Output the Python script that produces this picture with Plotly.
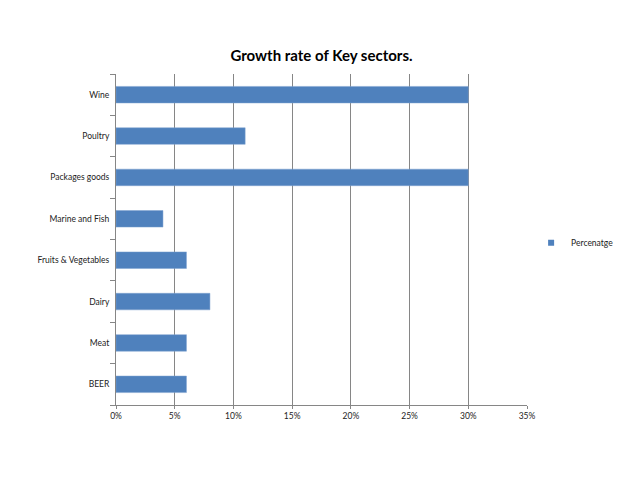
import plotly.graph_objects as go

categories = ["BEER", "Meat", "Dairy", "Fruits & Vegetables", "Marine and Fish",
              "Packages goods", "Poultry", "Wine"]
values = [0.06, 0.06, 0.08, 0.06, 0.04, 0.30, 0.11, 0.30]
series_name = "Percenatge"
x_ticks = [0, 0.05, 0.10, 0.15, 0.20, 0.25, 0.30, 0.35]
x_tick_labels = ["0%", "5%", "10%", "15%", "20%", "25%", "30%", "35%"]

bar_color = "#4F81BD"

fig = go.Figure()
fig.add_trace(go.Bar(
    y=categories, x=values, orientation="h", name=series_name,
    marker=dict(color=bar_color, line=dict(color="#7FA3D1", width=0.5)),
    showlegend=False,
))
# legend entry with a small square key, like the original
fig.add_trace(go.Scatter(
    x=[None], y=[None], mode="markers", name=series_name,
    marker=dict(symbol="square", size=6, color=bar_color),
    showlegend=True,
))

# the page body has an 8px margin, so the figure is 8px smaller to fit the window
fig.update_layout(
    width=630, height=471,
    margin=dict(l=108, r=111, t=66, b=74, autoexpand=False),
    paper_bgcolor="white", plot_bgcolor="white",
    font=dict(family="Lato, Liberation Sans, sans-serif", color="#222222", size=8.5),
    title=dict(text="<b>Growth rate of Key sectors.</b>", x=0.5, xanchor="center",
               xref="paper", y=1 - 48/471, yanchor="middle",
               font=dict(size=15, family="Lato, Liberation Sans, sans-serif", color="#000000")),
    bargap=0.6,
    showlegend=True,
    legend=dict(x=1.01, xanchor="left", y=0.49, yanchor="middle",
                font=dict(size=8.5), bgcolor="rgba(0,0,0,0)", itemwidth=30,
                tracegroupgap=0),
    xaxis=dict(range=[0, 0.35], tickvals=x_ticks, ticktext=x_tick_labels,
               showgrid=True, gridcolor="#868686", gridwidth=1,
               showline=True, linecolor="#868686", linewidth=1,
               ticks="outside", ticklen=3, tickcolor="#868686",
               zeroline=False, tickfont=dict(size=8.5), automargin=False),
    yaxis=dict(type="category", categoryorder="array", categoryarray=categories,
               range=[-0.5, 7.5],
               showgrid=False, showline=True, linecolor="#868686", linewidth=1,
               ticks="outside", ticklen=5, tickcolor="#868686", tickson="boundaries",
               tickfont=dict(size=8.5), ticklabelstandoff=4, automargin=False),
)

fig.write_html("out.html")
